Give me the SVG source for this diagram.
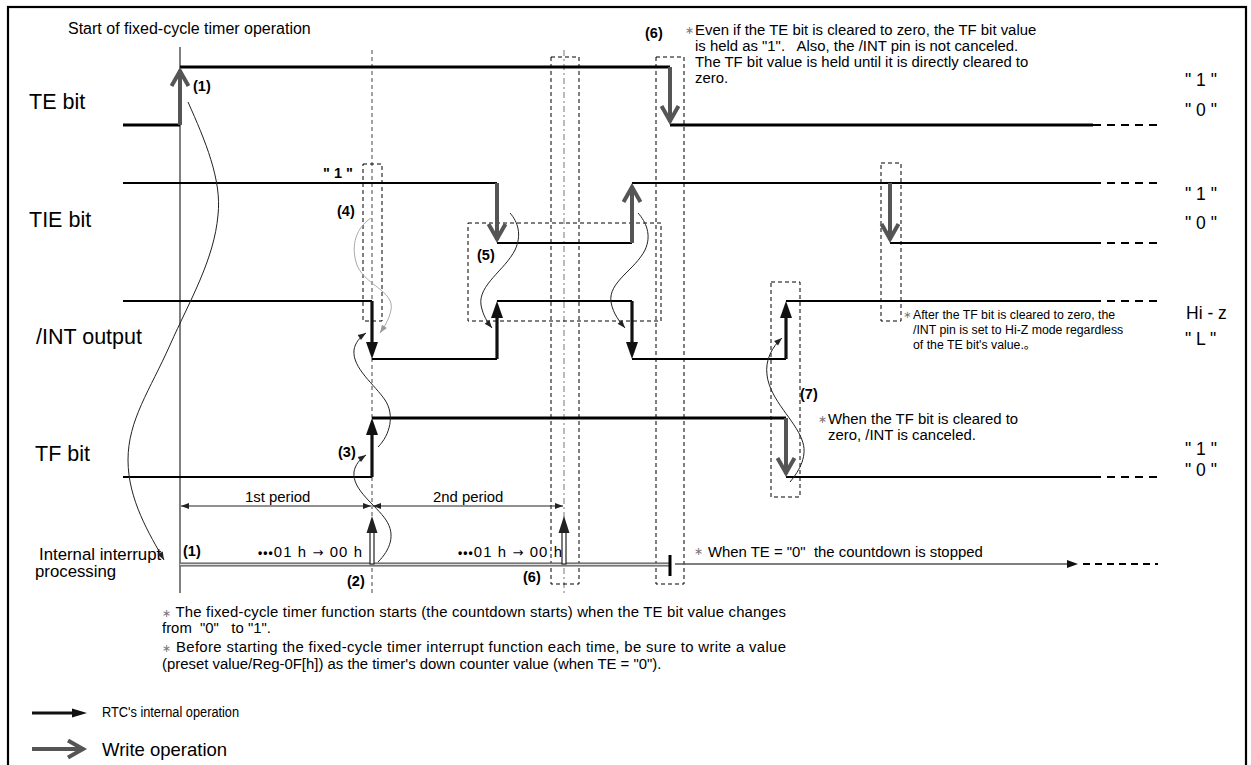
<svg xmlns="http://www.w3.org/2000/svg" width="1251" height="765" viewBox="0 0 1251 765">
<style>
text{font-family:"Liberation Sans","DejaVu Sans","Noto Sans CJK JP",sans-serif;fill:#000}
.name{font-size:21.5px}
.lvl{font-size:17.5px}
.note{font-size:14.9px}
.small{font-size:12.3px}
.b{font-size:14.5px;font-weight:bold}
.ast{fill:#777;font-size:11px}
.dots{font-size:12px;font-weight:bold}
.arr{font-family:"DejaVu Sans",sans-serif;font-size:13px}
.sig{stroke:#000;stroke-width:2.2;fill:none}
.thick{stroke-width:2.8}
.ext{stroke:#000;stroke-width:2.2;fill:none;stroke-dasharray:8 6}
.wr{stroke:#555;stroke-width:4;fill:none;marker-end:url(#wv)}
.rtc{stroke:#111;stroke-width:3.2;fill:none;marker-end:url(#rh)}
.box{fill:none;stroke:#000;stroke-width:1;stroke-dasharray:4 3}
.guide{fill:none;stroke:#444;stroke-width:1;stroke-dasharray:4 3}
.guide2{fill:none;stroke:#777;stroke-width:1;stroke-dasharray:6 3 2 3}
.curve{fill:none;stroke:#222;stroke-width:1;marker-end:url(#sa)}
.curveg{fill:none;stroke:#aaa;stroke-width:1;marker-end:url(#sag)}
.dim{fill:none;stroke:#222;stroke-width:1;marker-start:url(#pa);marker-end:url(#pa)}
</style>
<defs>
<marker id="wv" markerUnits="userSpaceOnUse" viewBox="-22 -12 26 24" markerWidth="26" markerHeight="24" refX="-3" refY="0" orient="auto">
<path d="M-19,-8.5 L-4,0 L-19,8.5" fill="none" stroke="#555" stroke-width="4"/>
</marker>
<marker id="rh" markerUnits="userSpaceOnUse" viewBox="-18 -7 20 14" markerWidth="20" markerHeight="14" refX="-8" refY="0" orient="auto">
<path d="M-17,-6 L0,0 L-17,6 Z" fill="#111"/>
</marker>
<marker id="sa" markerUnits="userSpaceOnUse" viewBox="-9 -4 10 8" markerWidth="10" markerHeight="8" refX="0" refY="0" orient="auto">
<path d="M-8,-3 L0,0 L-8,3 Z" fill="#222"/>
</marker>
<marker id="sag" markerUnits="userSpaceOnUse" viewBox="-9 -4 10 8" markerWidth="10" markerHeight="8" refX="0" refY="0" orient="auto">
<path d="M-8,-3 L0,0 L-8,3 Z" fill="#999"/>
</marker>
<marker id="pa" markerUnits="userSpaceOnUse" viewBox="-9 -4 10 8" markerWidth="10" markerHeight="8" refX="0" refY="0" orient="auto-start-reverse">
<path d="M-8,-3 L0,0 L-8,3 Z" fill="#222"/>
</marker>
<marker id="ia" markerUnits="userSpaceOnUse" viewBox="-12 -5 13 10" markerWidth="13" markerHeight="10" refX="-8" refY="0" orient="auto">
<path d="M-11,-4 L0,0 L-11,4 Z" fill="#111"/>
</marker>
<marker id="lw" markerUnits="userSpaceOnUse" viewBox="-16 -5 17 10" markerWidth="17" markerHeight="10" refX="-8" refY="0" orient="auto">
<path d="M-15,-4.5 L0,0 L-15,4.5 Z" fill="#111"/>
</marker>
</defs>

<rect x="8" y="7" width="1238" height="770" fill="none" stroke="#000" stroke-width="2.2"/>

<text x="68" y="34" style="font-size:16px">Start of fixed-cycle timer operation</text>

<g id="guides">
<line x1="180" y1="47" x2="180" y2="593" stroke="#000" stroke-width="1"/>
<line class="guide" x1="372" y1="50" x2="372" y2="593"/>
<line class="guide2" x1="564" y1="50" x2="564" y2="593"/>
<rect class="box" x="363" y="164" width="19" height="157"/>
<rect class="box" x="468" y="223" width="193" height="98"/>
<rect class="box" x="551" y="57" width="28" height="527"/>
<rect class="box" x="656" y="57" width="28" height="527"/>
<rect class="box" x="881" y="163" width="20" height="158"/>
<rect class="box" x="771" y="282" width="29" height="215"/>
</g>

<g id="te-bit">
<text class="name" x="29" y="109">TE bit</text>
<path class="sig thick" d="M123,125 H180 M180,67 H670 M670,125 H1093"/>
<path class="ext" d="M1093,125 H1158"/>
<line class="wr" x1="180" y1="125" x2="180" y2="70"/>
<line class="wr" x1="670" y1="67" x2="670" y2="122"/>
<text class="b" x="193" y="91">(1)</text>
<text class="lvl" x="1185" y="86">" 1 "</text>
<text class="lvl" x="1185" y="116">" 0 "</text>
</g>

<g id="tie-bit">
<text class="name" x="29" y="227">TIE bit</text>
<path class="sig" d="M123,183 H497 M497,243 H632 M632,183 H1093 M890,243 H1093"/>
<path class="ext" d="M1093,183 H1158 M1093,243 H1158"/>
<line class="wr" x1="497" y1="183" x2="497" y2="240"/>
<line class="wr" x1="632" y1="243" x2="632" y2="186"/>
<line class="wr" x1="890" y1="183" x2="890" y2="240"/>
<text class="b" x="323" y="178">" 1 "</text>
<text class="b" x="337" y="216">(4)</text>
<text class="b" x="477" y="260">(5)</text>
<text class="lvl" x="1185" y="200">" 1 "</text>
<text class="lvl" x="1185" y="229">" 0 "</text>
</g>

<g id="int-output">
<text class="name" x="36" y="344">/INT output</text>
<path class="sig" d="M123,301 H372 M372,359 H497 M497,301 H632 M632,359 H786 M786,301 H1093"/>
<path class="ext" d="M1093,301 H1158"/>
<line class="rtc" x1="372" y1="301" x2="372" y2="351"/>
<line class="rtc" x1="497" y1="359" x2="497" y2="309"/>
<line class="rtc" x1="632" y1="301" x2="632" y2="351"/>
<line class="rtc" x1="786" y1="359" x2="786" y2="309"/>
<text class="lvl" x="1186" y="319">Hi - z</text>
<text class="lvl" x="1185" y="345">" L "</text>
</g>

<g id="tf-bit">
<text class="name" x="35" y="461">TF bit</text>
<path class="sig" d="M123,477 H372 M786,477 H1093"/>
<path class="sig thick" d="M372,418 H786"/>
<path class="ext" d="M1093,477 H1158"/>
<line class="rtc" x1="372" y1="477" x2="372" y2="426"/>
<line class="wr" x1="786" y1="418" x2="786" y2="474"/>
<text class="b" x="338" y="457">(3)</text>
<text class="b" x="800" y="399">(7)</text>
<text class="lvl" x="1185" y="455">" 1 "</text>
<text class="lvl" x="1185" y="476">" 0 "</text>
</g>

<g id="internal-interrupt">
<text x="39" y="560" style="font-size:16.8px">Internal interrupt</text>
<text x="35" y="577" style="font-size:16.8px">processing</text>
<line x1="180" y1="564.5" x2="670" y2="564.5" stroke="#555" stroke-width="4"/>
<line x1="180" y1="564.5" x2="670" y2="564.5" stroke="#ddd" stroke-width="1.4"/>
<line x1="670" y1="555" x2="670" y2="576" stroke="#000" stroke-width="3"/>
<line x1="675" y1="564" x2="1070" y2="564" stroke="#555" stroke-width="1.5" marker-end="url(#ia)"/>
<line x1="1083" y1="564" x2="1158" y2="564" stroke="#000" stroke-width="2" stroke-dasharray="7 5"/>
<rect x="370" y="532" width="4" height="32" fill="#fff" stroke="#222" stroke-width="1.2"/>
<polygon points="366.5,533 372,516 377.5,533" fill="#222"/>
<rect x="562" y="532" width="4" height="32" fill="#fff" stroke="#222" stroke-width="1.2"/>
<polygon points="558.5,533 564,516 569.5,533" fill="#222"/>
<text class="b" x="183" y="556">(1)</text>
<text class="b" x="347" y="586">(2)</text>
<text class="b" x="523" y="582">(6)</text>
<text class="note" x="258" y="557" textLength="104" lengthAdjust="spacing"><tspan class="dots">•••</tspan>01 h <tspan class="arr">→</tspan> 00 h</text>
<text class="note" x="458" y="557" textLength="104" lengthAdjust="spacing"><tspan class="dots">•••</tspan>01 h <tspan class="arr">→</tspan> 00 h</text>
<text class="ast" x="694" y="555">∗</text>
<text class="note" x="708" y="557" xml:space="preserve">When TE = "0"  the countdown is stopped</text>
<text class="note" x="245" y="502">1st period</text>
<text class="note" x="433" y="502">2nd period</text>
</g>

<g id="notes">
<text class="b" x="645" y="38">(6)</text>
<text class="ast" x="685" y="34">∗</text>
<text class="note" x="695" y="35">Even if the TE bit is cleared to zero, the TF bit value</text>
<text class="note" x="695" y="51" xml:space="preserve">is held as "1".   Also, the /INT pin is not canceled.</text>
<text class="note" x="695" y="67">The TF bit value is held until it is directly cleared to</text>
<text class="note" x="695" y="83">zero.</text>
<text class="ast" x="818" y="423">∗</text>
<text class="note" x="828" y="424">When the TF bit is cleared to</text>
<text class="note" x="828" y="440">zero, /INT is canceled.</text>
<text class="ast" x="903" y="318" style="font-size:10px">∗</text>
<text class="small" x="913" y="319">After the TF bit is cleared to zero, the</text>
<text class="small" x="913" y="334">/INT pin is set to Hi-Z mode regardless</text>
<text class="small" x="913" y="349">of the TE bit's value.。</text>
<text class="note" x="162" y="617" textLength="624" lengthAdjust="spacing"><tspan class="ast">∗</tspan> The fixed-cycle timer function starts (the countdown starts) when the TE bit value changes</text>
<text class="note" x="162" y="633" xml:space="preserve">from  "0"   to "1".</text>
<text class="note" x="162" y="652" textLength="624" lengthAdjust="spacing"><tspan class="ast">∗</tspan> Before starting the fixed-cycle timer interrupt function each time, be sure to write a value</text>
<text class="note" x="162" y="669">(preset value/Reg-0F[h]) as the timer's down counter value (when TE = "0").</text>
</g>

<g id="legend">
<line x1="32" y1="713" x2="79" y2="713" stroke="#111" stroke-width="3" marker-end="url(#lw)"/>
<text x="102" y="717" transform="translate(102 0) scale(0.83 1) translate(-102 0)" style="font-size:15.4px">RTC's internal operation</text>
<line class="wr" x1="32" y1="749" x2="84" y2="749"/>
<text x="102" y="756" style="font-size:18.5px">Write operation</text>
</g>

<g id="connectors">
<path class="curve" d="M188,102 C205,140 222,180 218,215 C214,260 190,300 170,345 C150,390 128,420 128,460 C128,500 150,535 164,560"/>
<path class="curveg" d="M371,218 C360,225 350,240 356,262 C362,285 395,290 391,310 C389,320 384,327 380,333"/>
<path class="curve" d="M378,562 C390,550 396,535 386,520 C376,505 352,490 354,472 C355,465 360,459 366,455"/>
<path class="curve" d="M378,447 C390,435 395,415 385,400 C375,385 352,368 354,350 C355,343 360,337 366,333"/>
<path class="curve" d="M510,213 C518,222 522,235 515,250 C505,270 478,285 481,305 C483,316 488,323 492,328"/>
<path class="curve" d="M638,213 C646,222 652,235 645,250 C635,270 608,282 611,302 C613,314 620,322 625,328"/>
<path class="curve" d="M790,482 C800,470 808,455 802,440 C795,420 770,400 767,375 C765,360 772,347 782,338"/>
<line class="dim" x1="181" y1="506" x2="371" y2="506"/>
<line class="dim" x1="373" y1="506" x2="563" y2="506"/>
</g>
</svg>
